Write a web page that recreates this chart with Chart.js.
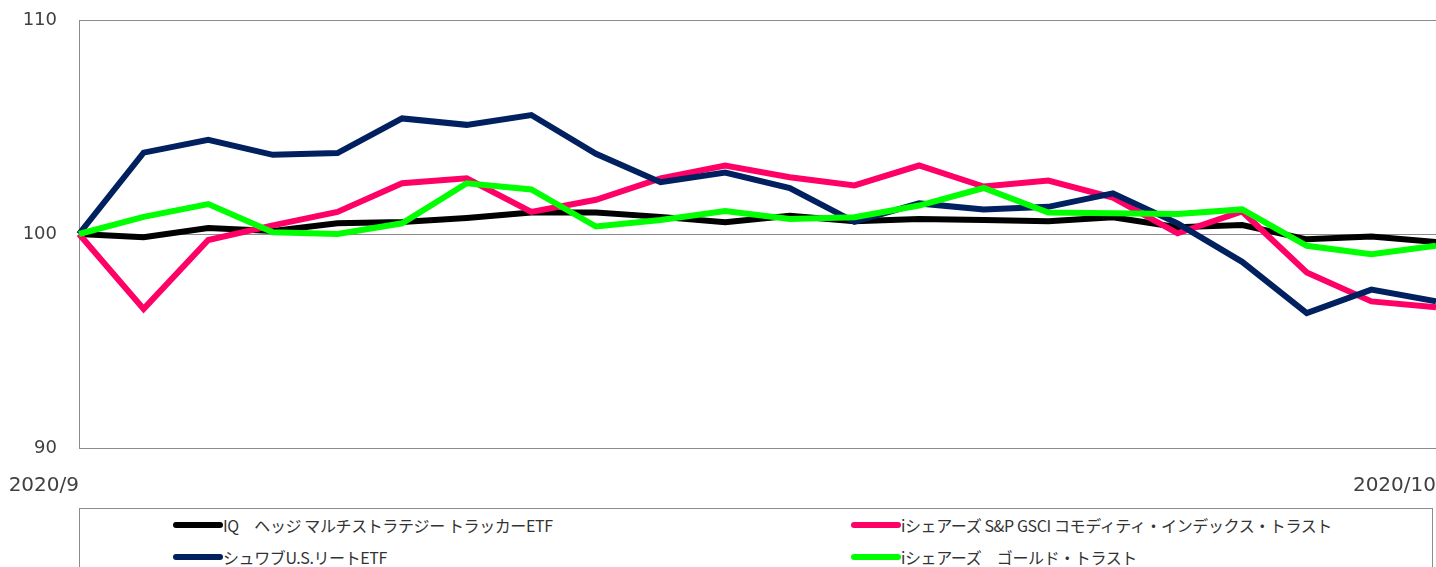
<!DOCTYPE html>
<html>
<head>
<meta charset="utf-8">
<script src="https://cdn.jsdelivr.net/npm/chart.js@4"></script>
<style>
  body { margin: 0; background: #fff; overflow: hidden; }
  #wrap { position: relative; width: 1436px; height: 500px; }
  #legend {
    position: absolute; left: 79px; top: 508px; width: 1354px; height: 80px;
    border: 1px solid #8c8c8c; box-sizing: border-box;
    font-family: "Noto Sans CJK JP", sans-serif; font-size: 16px; color: #333;
  }
  .item { position: absolute; display: flex; align-items: center; height: 20px; white-space: nowrap; }
  .sample { width: 50px; height: 6px; border-radius: 3px; }
  .txt { display: inline-block; letter-spacing: -0.4px; }
</style>
</head>
<body>
<div id="wrap"><canvas id="chart"></canvas></div>
<div id="legend"></div>
<script>
// 横軸（2020/9 〜 2020/10 の営業日）
var categories = ['2020/9', '', '', '', '', '', '', '', '', '', '', '', '', '', '', '', '', '', '', '', '', '2020/10'];

// 系列データ（起点=100）
var iq     = [100, 99.85, 100.28, 100.14, 100.5, 100.56, 100.75, 101.0, 101.0, 100.8, 100.55, 100.85, 100.6, 100.7, 100.65, 100.6, 100.78, 100.32, 100.42, 99.75, 99.88, 99.62];
var gsci   = [100, 96.5, 99.72, 100.4, 101.03, 102.37, 102.6, 101.03, 101.6, 102.6, 103.2, 102.65, 102.27, 103.2, 102.22, 102.5, 101.7, 100.03, 101.05, 98.2, 96.85, 96.58];
var schwab = [100, 103.8, 104.4, 103.7, 103.78, 105.4, 105.1, 105.56, 103.75, 102.42, 102.87, 102.15, 100.57, 101.43, 101.15, 101.27, 101.9, 100.5, 98.7, 96.3, 97.4, 96.85];
var gold   = [100, 100.8, 101.4, 100.08, 100.0, 100.5, 102.37, 102.08, 100.35, 100.65, 101.07, 100.7, 100.78, 101.33, 102.15, 101.0, 100.97, 100.93, 101.15, 99.45, 99.05, 99.45];

var seriesNames = [
  'IQ　ヘッジ マルチストラテジー トラッカーETF',
  'iシェアーズ S&P GSCI コモディティ・インデックス・トラスト',
  'シュワブU.S.リートETF',
  'iシェアーズ　ゴールド・トラスト'
];
var seriesColors = ['#000000', '#ff0066', '#002060', '#00ff00'];

var gray = '#8c8c8c';
var textGray = '#404040';

var ctx = document.getElementById('chart').getContext('2d');

var chart = new Chart(ctx, {
  type: 'line',
  data: {
    labels: categories,
    datasets: [
      { label: seriesNames[0], data: iq,     borderColor: seriesColors[0], backgroundColor: seriesColors[0], order: 3 },
      { label: seriesNames[1], data: gsci,   borderColor: seriesColors[1], backgroundColor: seriesColors[1], order: 2 },
      { label: seriesNames[2], data: schwab, borderColor: seriesColors[2], backgroundColor: seriesColors[2], order: 1 },
      { label: seriesNames[3], data: gold,   borderColor: seriesColors[3], backgroundColor: seriesColors[3], order: 0 }
    ]
  },
  options: {
    responsive: true,
    maintainAspectRatio: false,
    animation: false,
    layout: { padding: { top: 20, right: 0, left: 0, bottom: 0 } },
    elements: {
      line: { borderWidth: 6, tension: 0, fill: false },
      point: { radius: 0, hoverRadius: 0 }
    },
    plugins: {
      legend: { display: false },
      tooltip: { enabled: false }
    },
    scales: {
      x: {
        offset: false,
        grid: {
          drawTicks: false,
          color: function (c) { return c.index === categories.length - 1 ? gray : 'rgba(0,0,0,0)'; }
        },
        border: { color: gray },
        ticks: {
          autoSkip: false, maxRotation: 0, align: 'end', padding: 26,
          color: textGray, font: { family: 'DejaVu Sans', size: 20 }
        },
        afterFit: function (s) { s.height = 52; s.paddingLeft = 0; s.paddingRight = 0; }
      },
      y: {
        min: 90, max: 110,
        grid: { drawTicks: false, color: gray },
        border: { color: gray },
        ticks: {
          stepSize: 10, padding: 22,
          color: textGray, font: { family: 'DejaVu Sans', size: 18 }
        },
        afterFit: function (s) { s.width = 79; s.paddingTop = 0; s.paddingBottom = 0; }
      }
    }
  }
});

// 凡例（2列）
var legend = document.getElementById('legend');
var colX = [173 - 80, 851 - 80];
var rowY = [525 - 509, 557 - 509];
chart.data.datasets.forEach(function (ds, i) {
  var item = document.createElement('div');
  item.className = 'item';
  item.style.left = colX[i % 2] + 'px';
  item.style.top = (rowY[Math.floor(i / 2)] - 10) + 'px';
  var s = document.createElement('span');
  s.className = 'sample';
  s.style.background = ds.borderColor;
  var t = document.createElement('span');
  t.className = 'txt';
  t.textContent = ds.label;
  item.appendChild(s);
  item.appendChild(t);
  legend.appendChild(item);
});
</script>
</body>
</html>
